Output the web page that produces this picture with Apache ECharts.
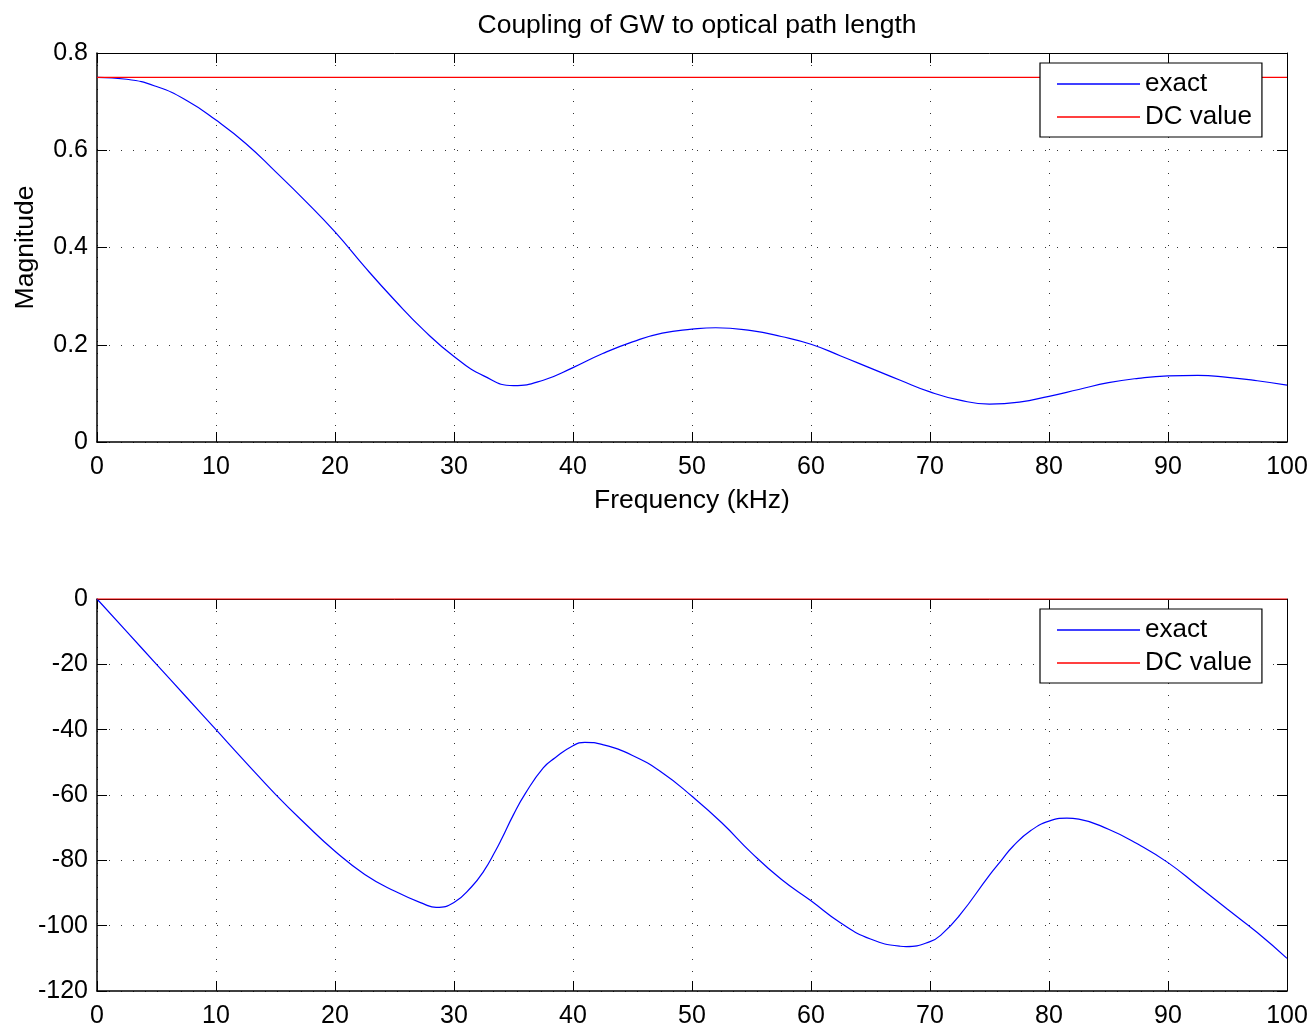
<!DOCTYPE html>
<html>
<head>
<meta charset="utf-8">
<script src="https://cdn.jsdelivr.net/npm/echarts@6/dist/echarts.min.js"></script>
<style>
html,body{margin:0;padding:0;background:#fff;}
#chart{width:1315px;height:1029px;}
</style>
</head>
<body>
<div id="chart"></div>
<script>
// Top panel: frequency samples (kHz) and magnitude of exact response
const magFreq = [0,2.5,5,7.5,10,12.5,15,17.5,20,22.5,25,27.5,30,32.5,35,37.5,40,42.5,45,47.5,50,52,55,57.5,60,62.5,65,67.5,70,72.5,75,77.5,80,82.5,85,87.5,90,92.5,95,97.5,100];
const magnitude = [0.75,0.746,0.731,0.703,0.662,0.614,0.556,0.496,0.432,0.36,0.292,0.229,0.176,0.136,0.116,0.127,0.153,0.182,0.206,0.224,0.232,0.235,0.229,0.217,0.201,0.177,0.152,0.127,0.103,0.086,0.078,0.082,0.094,0.108,0.122,0.131,0.136,0.137,0.133,0.126,0.117];
// Bottom panel: frequency samples (kHz) and phase of exact response (degrees)
const phaseFreq = [0,2.5,5,7.5,10,12.5,15,17.5,20,22.5,25,27.5,28.5,30,31.5,32.5,33.5,34,35,36,37.5,38.5,40,41,42.5,45,47.5,50,52.5,55,57.5,60,62.5,65,67.5,68,70,71,72.5,75,76,77,78.5,80,81.5,82.5,85,87.5,90,92.5,95,97.5,100];
const phase = [0,-10,-20,-30,-40,-50,-59.8,-68.8,-77.2,-84.3,-89.4,-93.4,-94.4,-92.9,-88,-83.3,-77,-73.5,-66,-59.5,-51.7,-48.6,-44.9,-43.9,-44.6,-47.9,-53.2,-60.4,-68.5,-77.7,-85.8,-92.4,-99.2,-104.1,-106.3,-106.4,-104.9,-102.6,-96.8,-84.5,-80,-75.6,-70.8,-68.0,-67.1,-67.4,-70.5,-75.1,-80.7,-87.8,-95.0,-102.1,-110.0];
// DC values
const dcMagnitude = 0.75;
const dcPhase = 0;
const xRange = [0, 100];
const titleText = 'Coupling of GW to optical path length';

const FONT = '"Liberation Sans", Arial, Helvetica, sans-serif';
const chart = echarts.init(document.getElementById('chart'), null, {renderer:'canvas'});

function pairs(xs, ys){ return xs.map((x,i)=>[x, ys[i]]); }
function flat(xs, v){ return [[xs[0], v],[xs[xs.length-1], v]]; }

const gridLine = {show:true, lineStyle:{color:'#333', width:1, type:[1,11]}};
function xAxisPair(gi, showName){
  return [{
    gridIndex: gi, type:'value', min:0, max:100, interval:10, position:'bottom',
    axisLine:{show:true, onZero:false, lineStyle:{color:'#000', width:1.5}},
    axisTick:{show:true, inside:true, length:10, lineStyle:{color:'#000', width:1}},
    axisLabel:{color:'#000', fontSize:25, fontFamily:FONT, margin:13},
    splitLine: gridLine,
    name: showName ? 'Frequency (kHz)' : '', nameLocation:'middle', nameGap:45,
    nameTextStyle:{color:'#000', fontSize:26.5, fontFamily:FONT}
  },{
    gridIndex: gi, type:'value', min:0, max:100, interval:10, position:'top',
    axisLine:{show:true, onZero:false, lineStyle:{color:'#000', width:1}},
    axisTick:{show:true, inside:true, length:10, lineStyle:{color:'#000', width:1}},
    axisLabel:{show:false}, splitLine:{show:false}
  }];
}
function yAxisPair(gi, min, max, interval, name){
  return [{
    gridIndex: gi, type:'value', min:min, max:max, interval:interval, position:'left',
    axisLine:{show:true, onZero:false, lineStyle:{color:'#000', width:1.5}},
    axisTick:{show:true, inside:true, length:10, lineStyle:{color:'#000', width:1}},
    axisLabel:{color:'#000', fontSize:25, fontFamily:FONT, margin:9},
    splitLine: gridLine,
    name: name, nameLocation:'middle', nameGap:58,
    nameTextStyle:{color:'#000', fontSize:26.5, fontFamily:FONT}
  },{
    gridIndex: gi, type:'value', min:min, max:max, interval:interval, position:'right',
    axisLine:{show:true, onZero:false, lineStyle:{color:'#000', width:1}},
    axisTick:{show:true, inside:true, length:10, lineStyle:{color:'#000', width:1}},
    axisLabel:{show:false}, splitLine:{show:false}
  }];
}

const legendCommon = {
  orient:'vertical', left:1040, icon:'rect', itemWidth:83, itemHeight:1.5, itemGap:7,
  padding:[8,10,7,17], borderColor:'#000', borderWidth:1.2, backgroundColor:'#fff',
  borderRadius:0, textStyle:{color:'#000', fontSize:26, fontFamily:FONT},
  data:['exact','DC value']
};

const lineCommon = {type:'line', showSymbol:false, symbol:'none', smooth:0.5, animation:false, clip:true};

const option = {
  animation:false,
  backgroundColor:'#fff',
  title:{text:titleText, left:692, top:7, textAlign:'center',
    textStyle:{color:'#000', fontSize:26.5, fontWeight:'normal', fontFamily:FONT}},
  grid:[
    {left:97, top:53, width:1190, height:389, containLabel:false},
    {left:97, top:599, width:1190, height:393, containLabel:false}
  ],
  legend:[
    Object.assign({}, legendCommon, {top:63}),
    Object.assign({}, legendCommon, {top:609})
  ],
  xAxis: [...xAxisPair(0, true), ...xAxisPair(1, false)],
  yAxis: [...yAxisPair(0, 0, 0.8, 0.2, 'Magnitude'), ...yAxisPair(1, -120, 0, 20, '')],
  series:[
    Object.assign({}, lineCommon, {name:'exact', xAxisIndex:0, yAxisIndex:0, data:pairs(magFreq, magnitude), lineStyle:{color:'#0000ff', width:1.2}, itemStyle:{color:'#0000ff'}, z:3}),
    Object.assign({}, lineCommon, {name:'DC value', xAxisIndex:0, yAxisIndex:0, smooth:false, data:flat(xRange, dcMagnitude), lineStyle:{color:'#ff0000', width:1.2}, itemStyle:{color:'#ff0000'}, z:3}),
    Object.assign({}, lineCommon, {name:'exact', xAxisIndex:2, yAxisIndex:2, data:pairs(phaseFreq, phase), lineStyle:{color:'#0000ff', width:1.2}, itemStyle:{color:'#0000ff'}, z:3}),
    Object.assign({}, lineCommon, {name:'DC value', xAxisIndex:2, yAxisIndex:2, smooth:false, clip:false, data:flat(xRange, dcPhase), lineStyle:{color:'#ff0000', width:1.2}, itemStyle:{color:'#ff0000'}, z:3})
  ]
};
chart.setOption(option);
</script>
</body>
</html>
